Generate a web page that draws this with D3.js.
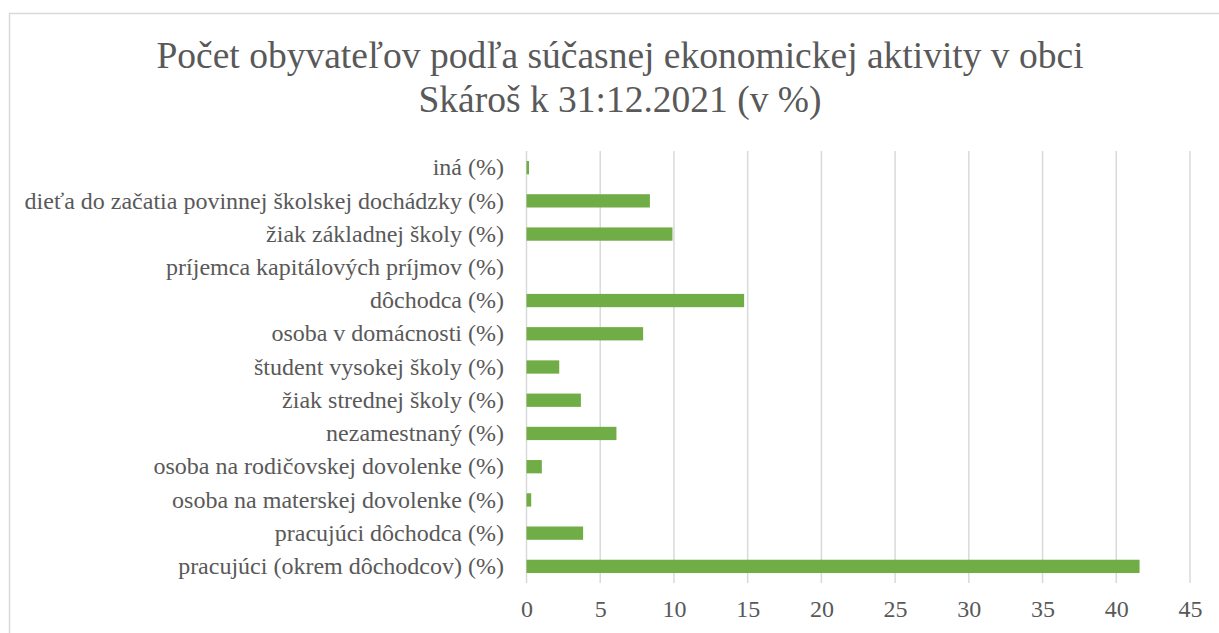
<!DOCTYPE html>
<html>
<head>
<meta charset="utf-8">
<script src="https://cdn.jsdelivr.net/npm/d3@7"></script>
</head>
<body style="margin:0;background:#fff">
<svg width="1219" height="633"></svg>
<script>
// categories from top to bottom
var categories = [
  "iná (%)",
  "dieťa do začatia povinnej školskej dochádzky (%)",
  "žiak základnej školy (%)",
  "príjemca kapitálových príjmov (%)",
  "dôchodca (%)",
  "osoba v domácnosti (%)",
  "študent vysokej školy (%)",
  "žiak strednej školy (%)",
  "nezamestnaný (%)",
  "osoba na rodičovskej dovolenke (%)",
  "osoba na materskej dovolenke (%)",
  "pracujúci dôchodca (%)",
  "pracujúci (okrem dôchodcov) (%)"
];
var values = [0.17, 8.37, 9.9, 0, 14.76, 7.91, 2.22, 3.69, 6.1, 1.04, 0.32, 3.84, 41.58];
var xTicks = [0, 5, 10, 15, 20, 25, 30, 35, 40, 45];
var titleLines = ["Počet obyvateľov podľa súčasnej ekonomickej aktivity v obci", "Skároš k 31:12.2021 (v %)"];

var font = "\"Liberation Serif\", Tinos, \"Times New Roman\", serif";
var textColor = "#595959";

var svg = d3.select("svg"),
    width = +svg.attr("width"),
    height = +svg.attr("height");

// chart frame
svg.append("rect")
  .attr("x", 9.5).attr("y", 13.5)
  .attr("width", 1240).attr("height", 660)
  .attr("fill", "#fff").attr("stroke", "#d9d9d9").attr("stroke-width", 1.5);

// title
svg.append("g").selectAll("text")
  .data(titleLines)
  .enter().append("text")
  .attr("x", 620)
  .attr("y", function(d, i) { return 68 + i * 43.5; })
  .attr("text-anchor", "middle")
  .attr("font-size", 37.5)
  .attr("fill", textColor)
  .style("font-family", font)
  .text(function(d) { return d; });

var x = d3.scaleLinear().domain([0, 45]).range([526.5, 1190]);
var y = d3.scaleBand().domain(categories).range([151, 583]).paddingInner(0.6).paddingOuter(0.3);

// gridlines
svg.append("g")
  .selectAll("line")
  .data(xTicks)
  .enter().append("line")
  .attr("x1", function(d) { return x(d); })
  .attr("x2", function(d) { return x(d); })
  .attr("y1", 151).attr("y2", 583)
  .attr("stroke", "#d9d9d9").attr("stroke-width", 1.5);

// bars
svg.append("g")
  .selectAll("rect")
  .data(values)
  .enter().append("rect")
  .attr("x", x(0))
  .attr("y", function(d, i) { return y(categories[i]); })
  .attr("width", function(d) { return x(d) - x(0); })
  .attr("height", y.bandwidth())
  .attr("fill", "#70ad47");

// x axis labels
var xAxis = svg.append("g")
  .attr("transform", "translate(0,583)")
  .call(d3.axisBottom(x).tickValues(xTicks).tickSize(0).tickPadding(17));
xAxis.select(".domain").remove();
xAxis.selectAll("text")
  .attr("font-size", 24)
  .attr("fill", textColor)
  .style("font-family", font);

// y axis labels
var yAxis = svg.append("g")
  .attr("transform", "translate(526.5,0)")
  .call(d3.axisLeft(y).tickSize(0).tickPadding(22.5));
yAxis.select(".domain").remove();
yAxis.selectAll("text")
  .attr("font-size", 24)
  .attr("fill", textColor)
  .style("font-family", font);
</script>
</body>
</html>
